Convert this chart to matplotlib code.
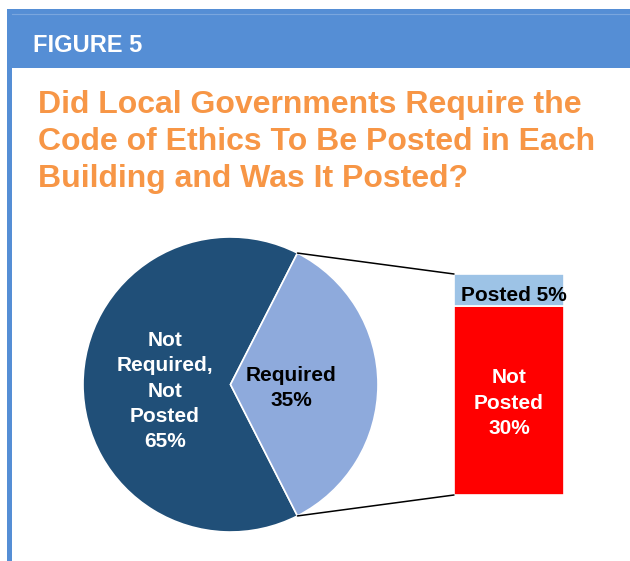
import numpy as np
import matplotlib
matplotlib.use("Agg")
import matplotlib.pyplot as plt
from matplotlib.patches import Rectangle, ConnectionPatch

plt.rcParams['font.family'] = ['Liberation Sans', 'DejaVu Sans']

# Data
pie_labels = ["Not\nRequired,\nNot\nPosted\n65%", "Required\n35%"]
pie_values = [65, 35]
bar_labels = ["Not\nPosted\n30%", "Posted 5%"]
bar_values = [30, 5]

W, H = 630, 561
fig = plt.figure(figsize=(W / 100, H / 100), dpi=100)
fig.patch.set_facecolor("white")

def px_axes(x0, y0, x1, y1):
    """Axes from pixel box (top-left origin)."""
    return fig.add_axes([x0 / W, 1 - y1 / H, (x1 - x0) / W, (y1 - y0) / H])

# Frame: header band and left rule
bg = fig.add_axes([0, 0, 1, 1])
bg.set_xlim(0, W)
bg.set_ylim(H, 0)
bg.axis("off")
blue = "#558ed5"
bg.add_patch(Rectangle((7, 9), W - 7, 59, facecolor=blue, edgecolor="none"))
bg.plot([12, W], [14, 14], color="#7aa6de", lw=0.8)
bg.add_patch(Rectangle((7, 9), 5, H - 9, facecolor=blue, edgecolor="none"))
bg.text(33, 52, "FIGURE 5", color="white", fontsize=17, fontweight="bold",
        va="baseline", ha="left")
bg.text(38, 142, "Did Local Governments Require the\nCode of Ethics To Be Posted in Each\nBuilding and Was It Posted?",
        color="#f79646", fontsize=23, fontweight="bold", va="center", ha="left",
        linespacing=1.29)

# Pie
cx, cy, r = 230.5, 384.5, 147.5
pax = px_axes(cx - r, cy - r, cx + r, cy + r)
start = 360 * pie_values[1] / 100 / 2
wedges, _ = pax.pie(pie_values, colors=["#204f78", "#8eaadc"], startangle=start,
                    radius=1, wedgeprops=dict(edgecolor="white", linewidth=1.2))
pax.set_xlim(-1, 1)
pax.set_ylim(-1, 1)
pax.set_aspect("auto")
label_pos = [(-0.445, -0.045), (0.41, -0.025)]
label_col = ["white", "black"]
for (lx, ly), lab, col in zip(label_pos, pie_labels, label_col):
    pax.text(lx, ly, lab, ha="center", va="center", color=col, fontsize=15,
             fontweight="bold", linespacing=1.42)

# Stacked bar breaking down the "Required" slice
bax = px_axes(454, 274, 564, 495)
bax.set_xlim(-0.5, 0.5)
bax.set_ylim(0, sum(bar_values))
bax.axis("off")
bar_colors = ["#ff0000", "#9dc3e6"]
bottom = 0
for v, c in zip(bar_values, bar_colors):
    bax.bar(0, v, width=1.0, bottom=bottom, color=c, edgecolor="white", linewidth=1.2)
    bottom += v
bax.text(0, bar_values[0] / 2 - 0.45, bar_labels[0], ha="center", va="center",
         color="white", fontsize=15, fontweight="bold", linespacing=1.42)
bax.text(0.04, bar_values[0] + 0.72, bar_labels[1], ha="center",
         va="baseline", color="black", fontsize=15, fontweight="bold")

# Connector lines from the slice edges to the bar corners
half = np.deg2rad(360 * pie_values[1] / 100 / 2)
for sgn, yb in [(1, sum(bar_values)), (-1, 0)]:
    con = ConnectionPatch(xyA=(np.cos(half), sgn * np.sin(half)), coordsA=pax.transData,
                          xyB=(-0.5, yb), coordsB=bax.transData,
                          color="black", lw=1.1)
    fig.add_artist(con)

fig.savefig("out.png", dpi=100, facecolor="white")
